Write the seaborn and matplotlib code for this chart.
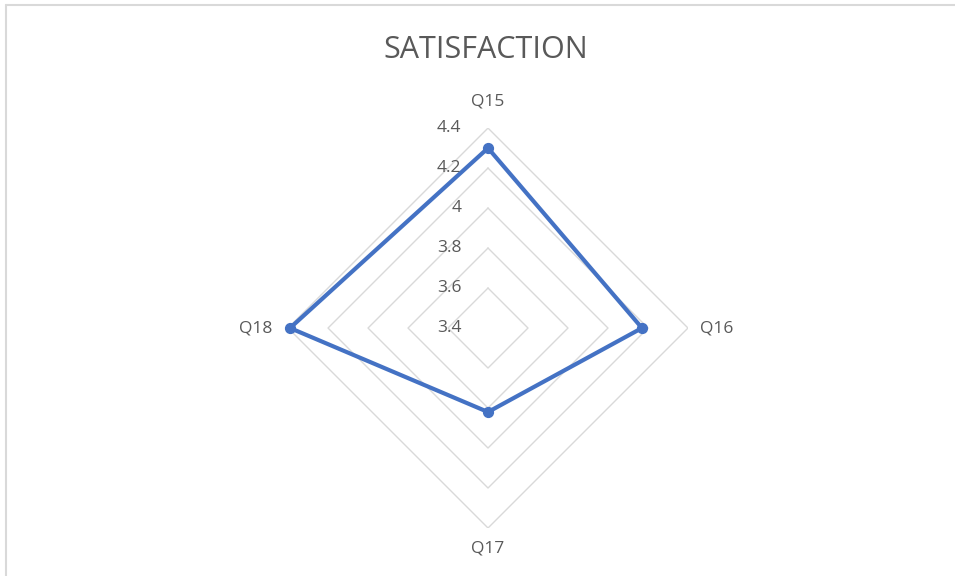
import numpy as np
import matplotlib
matplotlib.use("Agg")
import matplotlib.pyplot as plt
import seaborn as sns

# data
questions = ["Q15", "Q16", "Q17", "Q18"]
scores = [4.30, 4.17, 3.82, 4.39]
levels = [3.4, 3.6, 3.8, 4.0, 4.2, 4.4]
level_labels = ["3.4", "3.6", "3.8", "4", "4.2", "4.4"]

sns.set_theme(style="white")
plt.rcParams['font.family'] = ['Open Sans', 'DejaVu Sans']

line_color = "#4472C4"
grid_color = "#D9D9D9"
text_color = "#595959"

fig = plt.figure(figsize=(9.55, 5.76), dpi=100)
ax = fig.add_axes([0.3016, 0.0833, 0.4188, 0.6944], projection="polar")
ax.set_theta_offset(np.pi / 2)
ax.set_theta_direction(-1)

angles = np.linspace(0, 2 * np.pi, len(questions), endpoint=False)
closed = np.append(angles, angles[0])

# diamond gridlines
for lv in levels[1:]:
    ax.plot(closed, [lv] * len(closed), color=grid_color, lw=1.0, zorder=1)

vals = scores + scores[:1]
ax.plot(closed, vals, color=line_color, lw=3.0, zorder=3, clip_on=False)
ax.scatter(angles, scores, color=line_color, s=50, zorder=4, clip_on=False)

ax.set_ylim(3.4, 4.4)
ax.grid(False)
ax.spines['polar'].set_visible(False)
ax.set_xticks([])
ax.set_yticks([])
ax.patch.set_alpha(0)

# radial value labels left of the top spoke
for lv, lab in zip(levels, level_labels):
    ax.annotate(lab, xy=(0, lv), xytext=(-19, 0), textcoords="offset points",
                ha="right", va="center", fontsize=12.5, color=text_color,
                annotation_clip=False)

# category labels
label_r = [4.535, 4.545, 4.50, 4.56]
for ang, q, r in zip(angles, questions, label_r):
    ax.text(ang, r, q, ha="center", va="center", fontsize=12.5,
            color=text_color, clip_on=False)

fig.text(0.509, 0.913, "SATISFACTION", ha="center", va="center",
         fontsize=22, color=text_color)

# light chart-area border (top and left visible)
fig.add_artist(plt.Line2D([0.0068, 1.0], [0.9905, 0.9905], transform=fig.transFigure,
                          color="#D9D9D9", lw=1.5))
fig.add_artist(plt.Line2D([0.0068, 0.0068], [0.0, 0.9905], transform=fig.transFigure,
                          color="#D9D9D9", lw=1.5))

fig.savefig("out.png", dpi=100, facecolor="white")
